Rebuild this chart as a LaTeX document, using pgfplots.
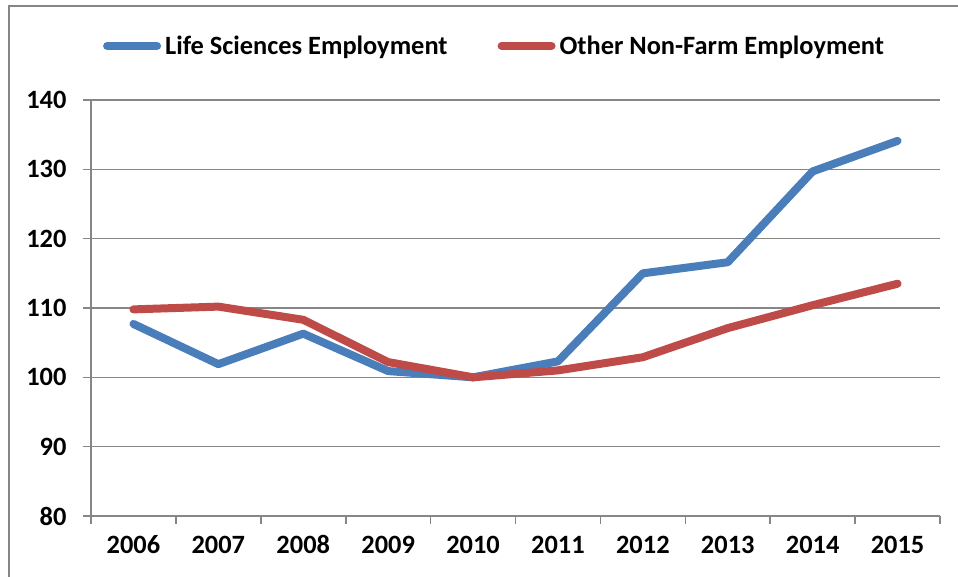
\documentclass[border=0pt]{standalone}
\usepackage{pgfplots}
\pgfplotsset{compat=1.18}
\usepackage{fontspec}
\setmainfont{Carlito}

\definecolor{lsblue}{HTML}{4A7EBB}
\definecolor{nfred}{HTML}{BE4B48}
\definecolor{gridgray}{HTML}{868686}

\begin{document}
\begin{tikzpicture}
\useasboundingbox (0,0) rectangle (958bp,577bp);
% outer chart frame
\draw[gridgray, line width=2bp] (9bp,0) -- (9bp,571bp) -- (958bp,571bp);
\begin{axis}[
  at={(91bp,61bp)}, anchor=south west,
  scale only axis, width=849bp, height=416bp,
  xmin=-0.5, xmax=9.5, ymin=80, ymax=140,
  axis x line*=bottom, axis y line*=left,
  axis line style={gridgray, line width=1.6bp},
  xtick={-0.5,0.5,...,9.5},
  xticklabels={2006,2007,2008,2009,2010,2011,2012,2013,2014,2015,{}},
  xticklabel style={xshift=42.45bp, yshift=-9bp, anchor=north, text height=17bp, text depth=0pt},
  ytick={80,90,...,140},
  yticklabel style={xshift=-13bp},
  tick align=outside, major tick length=8bp,
  tick style={gridgray, line width=1.6bp},
  ymajorgrids, grid style={gridgray, line width=1.6bp},
  /pgf/number format/assume math mode=true,
  every tick label/.append style={font=\fontsize{26.5}{30}\selectfont\bfseries},
  legend columns=2,
  legend style={at={(axis description cs:0.014,1.13)}, anchor=west,
    draw=none, fill=none, inner sep=0pt,
    nodes={inner sep=0pt, font=\fontsize{26.5}{30}\selectfont\bfseries},
    /tikz/every odd column/.append style={column sep=4bp},
    /tikz/every even column/.append style={column sep=50bp}},
  legend image code/.code={\draw[#1, line width=8bp, line cap=round] (0bp,0bp) -- (50bp,0bp);},
  every axis plot/.append style={line width=8bp, line cap=round, line join=round},
]
\addplot[lsblue] coordinates {
  (0,107.7) (1,101.9) (2,106.3) (3,100.9) (4,100.0)
  (5,102.3) (6,115.0) (7,116.6) (8,129.7) (9,134.1)};
\addlegendentry{Life Sciences Employment}
\addplot[nfred] coordinates {
  (0,109.8) (1,110.2) (2,108.3) (3,102.2) (4,100.0)
  (5,101.0) (6,102.9) (7,107.1) (8,110.4) (9,113.5)};
\addlegendentry{Other Non-Farm Employment}
\end{axis}
\end{tikzpicture}
\end{document}
